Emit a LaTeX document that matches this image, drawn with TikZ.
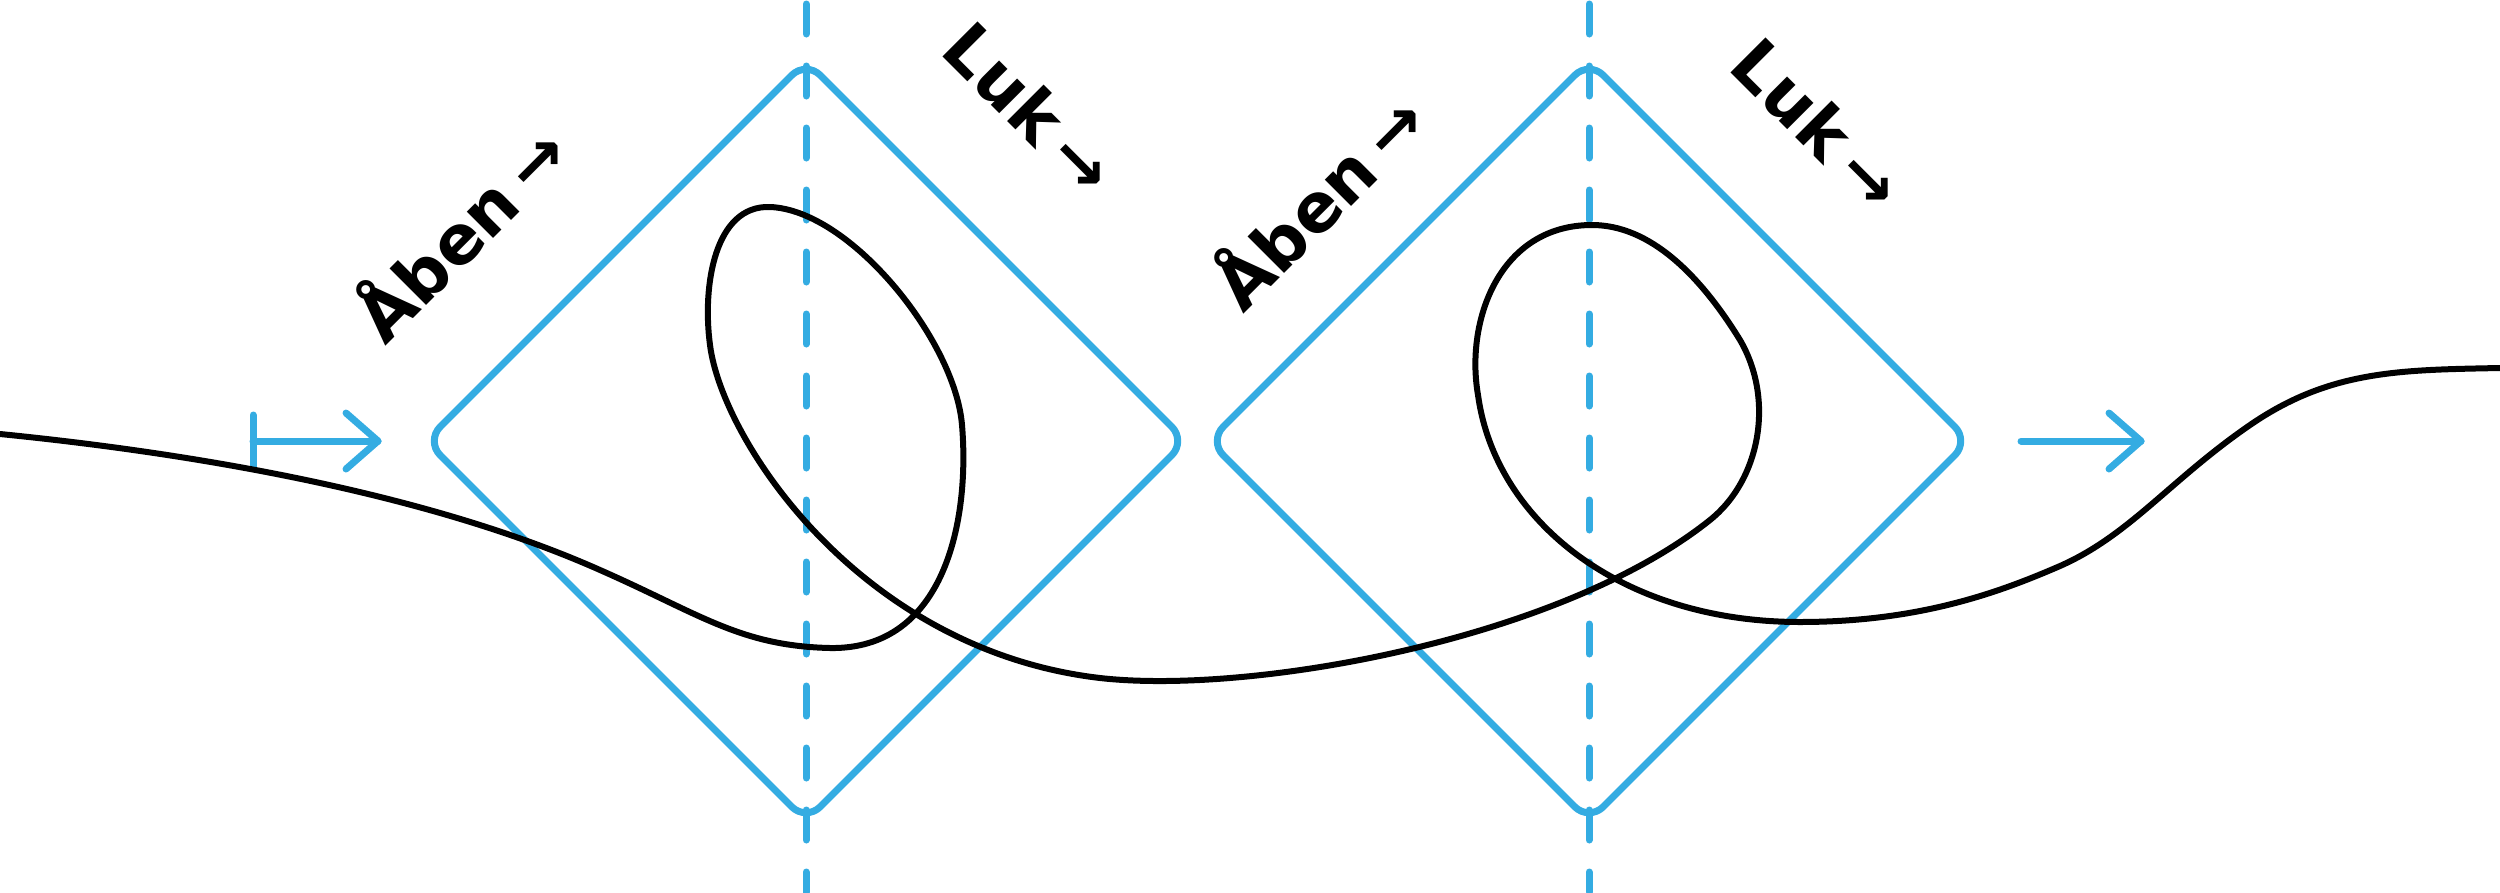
\documentclass[tikz,border=0pt]{standalone}
\usepackage{fontspec}
\newfontfamily\handfont{DejaVu Sans}
\definecolor{cblue}{RGB}{52,172,226}
\begin{document}
\begin{tikzpicture}[x=1pt,y=-1pt,
  bluebox/.style={draw=cblue,line width=7pt,rounded corners=20pt,line join=round},
  dashline/.style={draw=cblue,line width=7pt,line cap=round,dash pattern=on 30pt off 32pt},
  bluearrow/.style={draw=cblue,line width=7pt,line cap=round,line join=round},
  curve/.style={draw=black,line width=6pt,line cap=round},
  lbl/.style={font=\handfont\bfseries\fontsize{68}{68}\selectfont,inner sep=0pt}]
\useasboundingbox (0,0) rectangle (2500,892);
% centres
\coordinate (c1) at (806,441);
\coordinate (c2) at (1589,441);
% dashed verticals
\coordinate (d1t) at (806,4); \coordinate (d1b) at (806,892);
\coordinate (d2t) at (1589,4); \coordinate (d2b) at (1589,892);
\draw[dashline] (d1t) -- (d1b);
\draw[dashline] (d2t) -- (d2b);
% diamonds
\draw[bluebox] (616,251) -- (806,61) -- (1186,441) -- (806,821) -- (426,441) -- cycle;
\draw[bluebox] (1399,251) -- (1589,61) -- (1969,441) -- (1589,821) -- (1209,441) -- cycle;
% arrows
\coordinate (a1s) at (253,441); \coordinate (a1e) at (378,441);
\coordinate (a2s) at (2021,441); \coordinate (a2e) at (2141,441);
\draw[bluearrow] (253,415) -- (253,467);
\draw[bluearrow] (a1s) -- (a1e);
\draw[bluearrow] (346,413) -- (a1e) -- (346,469);
\draw[bluearrow] (a2s) -- (a2e);
\draw[bluearrow] (2109,413) -- (a2e) -- (2109,469);
% labels
\node[lbl,rotate=45] (l1) at (458,230) {Åben\hspace{14pt}→};
\node[lbl,rotate=-45] (l2) at (1030,108) {Luk\hspace{14pt}→};
\node[lbl,rotate=45] (l3) at (1316,198) {Åben\hspace{14pt}→};
\node[lbl,rotate=-45] (l4) at (1818,124) {Luk\hspace{14pt}→};
% curve
\coordinate (s) at (0,434);
\coordinate (e) at (2500,368);
\draw[curve] (s)
  .. controls (180,452) and (420,490) .. (600,570)
  .. controls (700,614) and (740,646) .. (830,648)
  .. controls (945,650) and (970,520) .. (962,425)
  .. controls (955,340) and (850,210) .. (770,207)
  .. controls (715,205) and (702,285) .. (710,345)
  .. controls (722,440) and (860,650) .. (1100,678)
  .. controls (1250,695) and (1560,640) .. (1710,520)
  .. controls (1760,480) and (1775,400) .. (1740,340)
  .. controls (1700,275) and (1650,225) .. (1592,225)
  .. controls (1500,225) and (1465,320) .. (1478,395)
  .. controls (1495,520) and (1620,622) .. (1800,622)
  .. controls (1920,622) and (2000,592) .. (2060,566)
  .. controls (2130,535) and (2170,480) .. (2250,425)
  .. controls (2330,370) and (2400,370) .. (e);
\end{tikzpicture}
\end{document}
